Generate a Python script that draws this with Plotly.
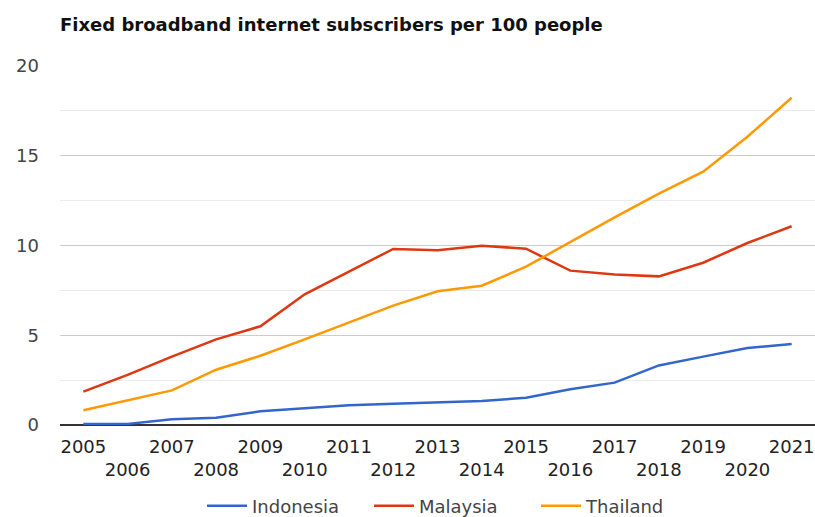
import plotly.graph_objects as go

# Fixed broadband subscriptions per 100 people, 2005-2021
years = list(range(2005, 2022))
indonesia = [0.05, 0.06, 0.32, 0.41, 0.76, 0.93, 1.10, 1.19, 1.26, 1.34, 1.52, 1.99, 2.36, 3.32, 3.81, 4.29, 4.51]
malaysia = [1.86, 2.79, 3.81, 4.77, 5.50, 7.28, 8.54, 9.81, 9.73, 9.99, 9.82, 8.60, 8.38, 8.28, 9.04, 10.14, 11.07]
thailand = [0.82, 1.36, 1.93, 3.08, 3.86, 4.77, 5.72, 6.65, 7.45, 7.76, 8.82, 10.21, 11.57, 12.89, 14.11, 16.06, 18.23]

series = [
    ("Indonesia", indonesia, "#3366cc"),
    ("Malaysia", malaysia, "#dc3912"),
    ("Thailand", thailand, "#ff9900"),
]

# Alternate year labels between two rows so they don't collide
tick_text = [str(y) if (y - 2005) % 2 == 0 else "<br>" + str(y) for y in years]

FONT = "DejaVu Sans"

fig = go.Figure()
for name, values, color in series:
    fig.add_trace(go.Scatter(
        x=years, y=values, name=name, mode="lines",
        line=dict(color=color, width=2.5),
    ))

fig.update_layout(
    width=815, height=517,
    margin=dict(l=60, r=0, t=66, b=92),
    paper_bgcolor="white", plot_bgcolor="white",
    title=dict(
        text="<b>Fixed broadband internet subscribers per 100 people</b>",
        font=dict(family=FONT, size=18, color="#111111"),
        x=60 / 815, xanchor="left", xref="container",
        y=1 - 25 / 517, yanchor="middle", yref="container",
    ),
    font=dict(family=FONT, size=18, color="#444444"),
    legend=dict(
        orientation="h", x=202 / 815, xanchor="left", xref="container",
        y=1 - 506 / 517, yanchor="middle", yref="container",
        font=dict(family=FONT, size=18, color="#444444"),
        itemwidth=40, entrywidth=112, entrywidthmode="pixels",
    ),
    showlegend=True,
)

fig.update_xaxes(
    range=[2004.473, 2021.527],
    tickvals=years, ticktext=tick_text, tickangle=0,
    tickfont=dict(family=FONT, size=18, color="#222222"),
    showgrid=False, zeroline=False, showline=False,
    ticks="", ticklabelstandoff=9,
)

fig.update_yaxes(
    range=[0, 20], tick0=0, dtick=5,
    tickfont=dict(family=FONT, size=18, color="#444444"),
    showgrid=True, gridcolor="#cccccc", gridwidth=1,
    minor=dict(dtick=2.5, showgrid=True, gridcolor="#ebebeb", gridwidth=1),
    zeroline=True, zerolinecolor="#333333", zerolinewidth=1.5,
    showline=False, ticks="", ticklabelstandoff=20,
)

fig.write_html("out.html")
